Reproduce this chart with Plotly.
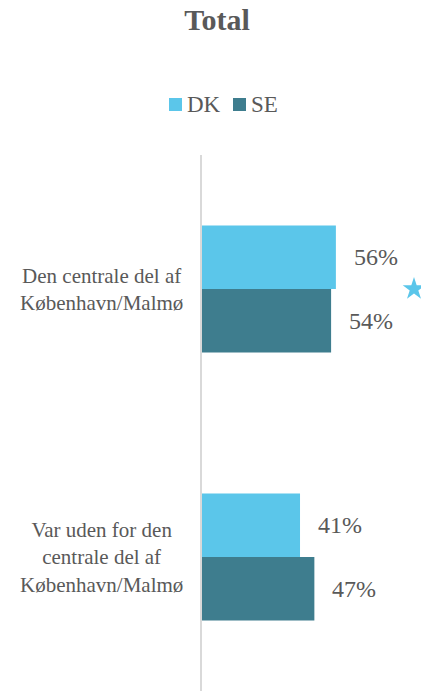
import plotly.graph_objects as go

categories = ["Den centrale del af<br>København/Malmø",
              "Var uden for den<br>centrale del af<br>København/Malmø"]
series_names = ["DK", "SE"]
dk_values = [56, 41]
se_values = [54, 47]
significant_dk = [True, False]

colors = {"DK": "#5BC6EA", "SE": "#3E7D8E"}
FONT = "Liberation Serif"
TXT = "#595959"

W, H = 421, 691
L, T = 202, 155
PW, PH = W - L, H - T
XMAX = 91.6


def px(X):
    return (X - L) / PW


def py(Y):
    return 1 - (Y - T) / PH


fig = go.Figure()
for name, vals in zip(series_names, [dk_values, se_values]):
    fig.add_trace(go.Bar(
        name=name, y=categories, x=vals, orientation="h",
        marker=dict(color=colors[name], line=dict(width=0)),
        hoverinfo="skip", showlegend=False,
    ))

# significance star marker (DK colour), at right edge of the group
star_cats = [c for c, s in zip(categories, significant_dk) if s]
fig.add_trace(go.Scatter(
    x=[px(414) * XMAX] * len(star_cats), y=star_cats, mode="markers",
    marker=dict(symbol="star", size=17, color=colors["DK"], line=dict(width=0)),
    cliponaxis=False, hoverinfo="skip", showlegend=False,
))

annotations = []
shapes = []
# value labels
for i, (name, vals) in enumerate(zip(series_names, [dk_values, se_values])):
    for cat, v in zip(categories, vals):
        annotations.append(dict(
            x=v, y=cat, xref="x", yref="y", text=f"{v}%",
            showarrow=False, xanchor="left", xshift=16,
            yshift=(32 if i == 0 else -32),
            font=dict(family=FONT, size=24, color=TXT),
        ))
# category labels (centered)
for cat in categories:
    annotations.append(dict(
        x=px(101), y=cat, xref="paper", yref="y", text=cat,
        showarrow=False, xanchor="center", align="center",
        font=dict(family=FONT, size=21, color=TXT),
    ))

# legend (manual, tight spacing like the reference)
legend_items = [("DK", 169), ("SE", 233)]
for name, x0 in legend_items:
    shapes.append(dict(type="rect", xref="paper", yref="paper",
                       x0=px(x0), x1=px(x0 + 13), y0=py(111), y1=py(98),
                       fillcolor=colors[name], line=dict(width=0)))
    annotations.append(dict(x=px(x0 + 16), y=py(104.5), xref="paper", yref="paper",
                            text=name, showarrow=False, xanchor="left", yanchor="middle",
                            font=dict(family=FONT, size=23, color=TXT)))

fig.update_layout(
    width=W, height=H,
    margin=dict(l=L, r=0, t=T, b=0),
    paper_bgcolor="white", plot_bgcolor="white",
    barmode="group", bargap=0.526, bargroupgap=0,
    title=dict(text="<b>Total</b>", x=217 / W, xanchor="center",
               y=1 - 19 / H, yanchor="middle",
               font=dict(family=FONT, size=30, color=TXT)),
    xaxis=dict(range=[0, XMAX], showgrid=False, zeroline=False, showticklabels=False,
               showline=False, fixedrange=True),
    yaxis=dict(autorange="reversed", showticklabels=False, showgrid=False,
               showline=True, linecolor="#D9D9D9", linewidth=2, ticks="", fixedrange=True),
    annotations=annotations,
    shapes=shapes,
    showlegend=False,
)

fig.write_html("out.html", config={"displayModeBar": False},
               post_script="document.body.style.margin='0';document.body.style.overflow='hidden';")
